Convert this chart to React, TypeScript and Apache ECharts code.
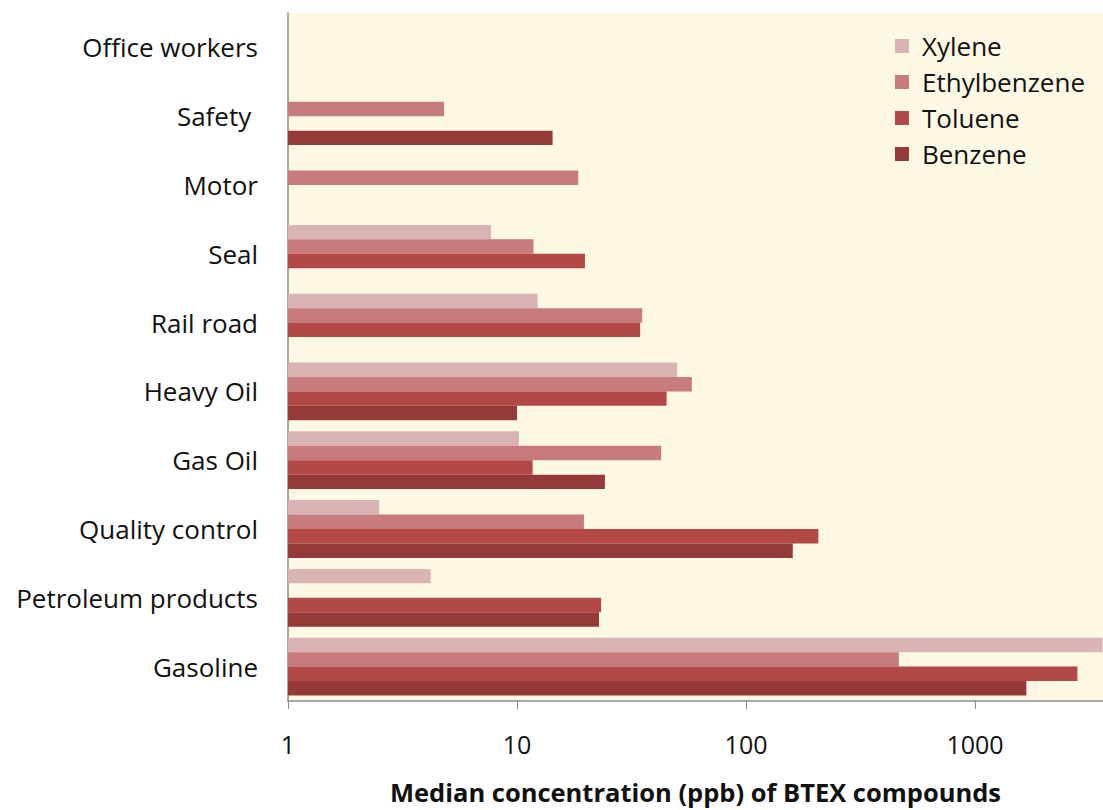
import React, { useEffect, useRef } from "react";
import * as echarts from "echarts";

const categories = [
  "Gasoline",
  "Petroleum products",
  "Quality control",
  "Gas Oil",
  "Heavy Oil",
  "Rail road",
  "Seal",
  "Motor",
  "Safety ",
  "Office workers",
];

const xylene = [3600, 4.2, 2.5, 10.2, 50, 12.3, 7.7, null, null, null];
const ethylbenzene = [465, null, 19.6, 42.6, 58, 35.2, 11.8, 18.5, 4.8, null];
const toluene = [2800, 23.3, 207, 11.7, 45, 34.5, 19.8, null, null, null];
const benzene = [1675, 22.8, 160, 24.2, 10, null, null, null, 14.3, null];

const xTicks = [1, 10, 100, 1000];
const legendOrder = ["Xylene", "Ethylbenzene", "Toluene", "Benzene"];

const colors: Record<string, string> = {
  Xylene: "#DAB4B5",
  Ethylbenzene: "#C87B7C",
  Toluene: "#B24947",
  Benzene: "#953A38",
};

const FONT = "Open Sans";

export default function App() {
  const ref = useRef<HTMLDivElement>(null);
  useEffect(() => {
    if (!ref.current) return;
    const chart = echarts.init(ref.current, null, { renderer: "svg" });
    const mk = (name: string, data: (number | null)[]) => ({
      name,
      type: "bar",
      data,
      barGap: "0%",
      barCategoryGap: "16%",
      itemStyle: { color: colors[name] },
    });
    chart.setOption({
      animation: false,
      textStyle: { fontFamily: FONT },
      grid: {
        left: 288,
        right: 0,
        top: 13,
        bottom: 99,
        show: true,
        backgroundColor: "#FCF8E3",
        borderWidth: 0,
      },
      legend: {
        data: legendOrder,
        orient: "vertical",
        right: 13,
        top: 28,
        itemWidth: 14,
        itemHeight: 14,
        itemGap: 10,
        icon: "rect",
        textStyle: { fontSize: 26, color: "#111", fontFamily: FONT, padding: [0, 0, 0, 8] },
      },
      xAxis: {
        type: "log",
        logBase: 10,
        min: 1,
        max: 3620,
        axisLine: { show: true, lineStyle: { color: "#8c8c8c", width: 1.5 } },
        axisTick: { show: true, length: 8, lineStyle: { color: "#8c8c8c" }, customValues: xTicks },
        axisLabel: {
          customValues: xTicks,
          formatter: (v: number) => String(Math.round(v)),
          fontSize: 25,
          color: "#111",
          margin: 30,
          fontFamily: FONT,
        },
        splitLine: { show: false },
        minorTick: { show: false },
        name: "Median concentration (ppb) of BTEX compounds",
        nameLocation: "middle",
        nameGap: 78,
        nameTextStyle: { fontSize: 25.5, fontWeight: "bold", color: "#111", fontFamily: FONT },
      },
      yAxis: {
        type: "category",
        data: categories,
        axisLine: { show: true, lineStyle: { color: "#8c8c8c", width: 1.5 } },
        axisTick: { show: false },
        axisLabel: { fontSize: 26, color: "#111", margin: 30, fontFamily: FONT },
        splitLine: { show: false },
      },
      series: [
        mk("Xylene", xylene),
        mk("Ethylbenzene", ethylbenzene),
        mk("Toluene", toluene),
        mk("Benzene", benzene),
      ],
    });
    return () => chart.dispose();
  }, []);
  return (
    <div
      ref={ref}
      style={{ position: "absolute", left: 0, top: 0, width: 1103, height: 810 }}
    />
  );
}
